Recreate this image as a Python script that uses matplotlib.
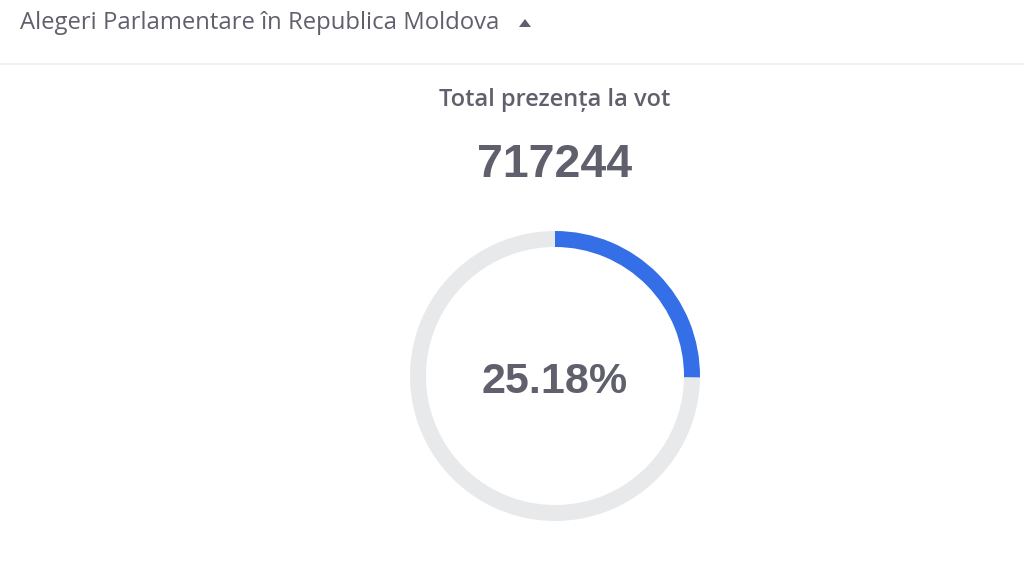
import matplotlib.pyplot as plt
from matplotlib.patches import Polygon

# -------------------------------
# Data
# -------------------------------
header = "Alegeri Parlamentare în Republica Moldova"
title = "Total prezența la vot"
total_votes = 717244
turnout_pct = 25.18
slices = [turnout_pct, 100 - turnout_pct]
slice_colors = ['#346fe8', '#e8e9eb']

text_color = '#5f606c'
W, H = 1024, 563

# -------------------------------
# Figure in pixel coordinates (y up)
# -------------------------------
fig = plt.figure(figsize=(W / 100, H / 100), dpi=100)
ax = fig.add_axes([0, 0, 1, 1])

ax.pie(slices, colors=slice_colors, startangle=90, counterclock=False,
       center=(555, H - 376), radius=145, frame=True,
       wedgeprops=dict(width=16, linewidth=0))

ax.set_xlim(0, W)
ax.set_ylim(0, H)
ax.set_aspect('equal')
ax.axis('off')

# header and separator
ax.text(20, H - 29, header, fontsize=17.2, color=text_color,
        family='Open Sans', ha='left', va='baseline')
ax.add_patch(Polygon([[519, H - 27], [531, H - 27], [525, H - 19]],
                     closed=True, color=text_color, lw=0))
ax.plot([0, W], [H - 63.5, H - 63.5], color='#f0f0f2', lw=1.2)

# title and total
ax.text(555, H - 106, title, fontsize=17, color=text_color,
        family='Open Sans', fontweight='semibold', ha='center', va='baseline')
ax.text(555, H - 177, str(total_votes), fontsize=33.5, color=text_color,
        family='Liberation Sans', fontweight='bold', ha='center', va='baseline')

# center label
ax.text(555, H - 393, f"{turnout_pct:.2f}%", fontsize=31, color=text_color,
        family='Liberation Sans', fontweight='bold', ha='center', va='baseline')

plt.savefig('out.png', dpi=100)
